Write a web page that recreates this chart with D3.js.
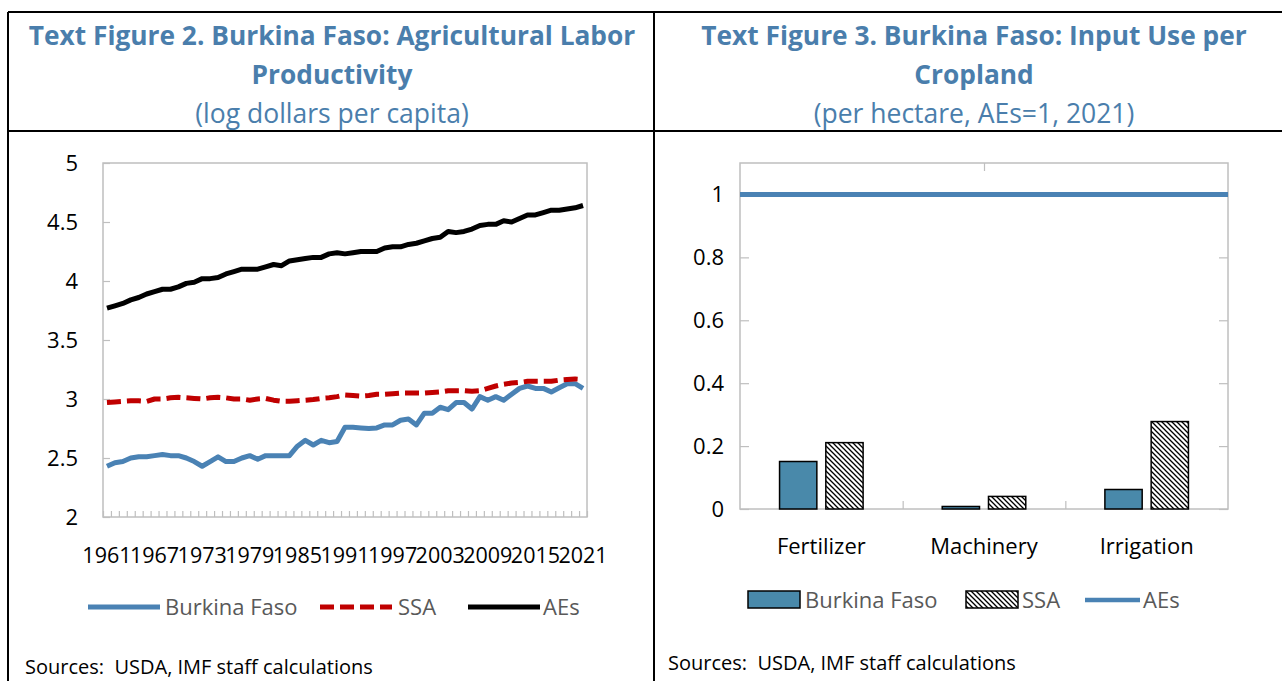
<!DOCTYPE html>
<html>
<head>
<meta charset="utf-8">
<script src="https://cdn.jsdelivr.net/npm/d3@7/dist/d3.min.js"></script>
<style>
  body { margin: 0; background: #fff; }
  text { font-family: "Open Sans", "Noto Sans", sans-serif; }
</style>
</head>
<body>
<svg id="fig" width="1282" height="681"></svg>
<script>
// ---- data: agricultural labor productivity (log dollars per capita)
var years = d3.range(1961, 2022);
var yearLabels = [1961, 1967, 1973, 1979, 1985, 1991, 1997, 2003, 2009, 2015, 2021];
var burkina = [2.43, 2.46, 2.47, 2.50, 2.51, 2.51, 2.52, 2.53, 2.52, 2.52,
               2.50, 2.47, 2.43, 2.47, 2.51, 2.47, 2.47, 2.50, 2.52, 2.49,
               2.52, 2.52, 2.52, 2.52, 2.60, 2.65, 2.61, 2.65, 2.63, 2.64,
               2.76, 2.76, 2.755, 2.75, 2.755, 2.78, 2.78, 2.82, 2.83, 2.78,
               2.88, 2.88, 2.93, 2.91, 2.97, 2.97, 2.915, 3.02, 2.99, 3.02,
               2.99, 3.04, 3.09, 3.11, 3.09, 3.09, 3.06, 3.095, 3.13, 3.13, 3.09];
var ssa = [2.97, 2.975, 2.98, 2.985, 2.985, 2.98, 3.00, 3.00, 3.01, 3.015,
           3.01, 3.005, 3.00, 3.01, 3.015, 3.01, 3.00, 3.00, 2.99, 3.00,
           3.005, 2.99, 2.98, 2.98, 2.985, 2.99, 2.995, 3.005, 3.01, 3.02,
           3.035, 3.03, 3.025, 3.03, 3.04, 3.04, 3.045, 3.05, 3.05, 3.05,
           3.05, 3.055, 3.06, 3.07, 3.07, 3.07, 3.065, 3.07, 3.09, 3.11,
           3.125, 3.135, 3.14, 3.15, 3.15, 3.15, 3.15, 3.16, 3.165, 3.17, 3.165];
var aes = [3.77, 3.79, 3.81, 3.84, 3.86, 3.89, 3.91, 3.93, 3.93, 3.95,
           3.98, 3.99, 4.02, 4.02, 4.03, 4.06, 4.08, 4.10, 4.10, 4.10,
           4.12, 4.14, 4.13, 4.17, 4.18, 4.19, 4.20, 4.20, 4.23, 4.24,
           4.23, 4.24, 4.25, 4.25, 4.25, 4.28, 4.29, 4.29, 4.31, 4.32,
           4.34, 4.36, 4.37, 4.42, 4.41, 4.42, 4.44, 4.47, 4.48, 4.48,
           4.51, 4.50, 4.53, 4.56, 4.56, 4.58, 4.60, 4.60, 4.61, 4.62, 4.64];
var prodTicks = [2, 2.5, 3, 3.5, 4, 4.5, 5];

// ---- data: input use per cropland (AEs = 1, 2021)
var inputCats = ["Fertilizer", "Machinery", "Irrigation"];
var inputBurkina = [0.151, 0.008, 0.062];
var inputSSA = [0.211, 0.040, 0.278];
var inputAEs = [1, 1];
var inputTicks = [0, 0.2, 0.4, 0.6, 0.8, 1];

var TITLE = "#4a7eac", BLUE = "#4a82b4", RED = "#c00000", BAR = "#4989aa",
    GRID = "#bfbfbf", LEG = "#595959";

var svg = d3.select("#fig");

// pattern for SSA bars
var defs = svg.append("defs");
var pat = defs.append("pattern").attr("id", "hatch")
  .attr("patternUnits", "userSpaceOnUse").attr("width", 5).attr("height", 5);
pat.append("rect").attr("width", 5).attr("height", 5).attr("fill", "#fff");
pat.append("path").attr("d", "M0,0L5,5M-1,4L1,6M4,-1L6,1")
  .attr("stroke", "#000").attr("stroke-width", 1.3);

// ---- table frame
var frame = svg.append("g").attr("stroke", "#000").attr("stroke-width", 2);
frame.append("line").attr("x1", 8).attr("x2", 1282).attr("y1", 12).attr("y2", 12);
frame.append("line").attr("x1", 8).attr("x2", 1282).attr("y1", 131).attr("y2", 131);
frame.append("line").attr("x1", 8).attr("x2", 8).attr("y1", 12).attr("y2", 681);
frame.append("line").attr("x1", 654).attr("x2", 654).attr("y1", 12).attr("y2", 681);

// ---- titles
function title(cx, l1, l2, l3) {
  var g = svg.append("g").attr("text-anchor", "middle").attr("fill", TITLE);
  g.append("text").attr("x", cx).attr("y", 45).attr("font-size", 26.3).attr("font-weight", 700).text(l1);
  g.append("text").attr("x", cx).attr("y", 84).attr("font-size", 26.3).attr("font-weight", 700).text(l2);
  g.append("text").attr("x", cx).attr("y", 123).attr("font-size", 26.5).text(l3);
}
title(332, "Text Figure 2. Burkina Faso: Agricultural Labor", "Productivity", "(log dollars per capita)");
title(974, "Text Figure 3. Burkina Faso: Input Use per", "Cropland", "(per hectare, AEs=1, 2021)");

// ---- left chart: lines
var L = {left: 103, right: 587, top: 163, bottom: 517};
var x = d3.scaleBand().domain(years).range([L.left, L.right]);
var xEdge = d3.scaleLinear().domain([0, years.length]).range([L.left, L.right]);
var y = d3.scaleLinear().domain([2, 5]).range([L.bottom, L.top]);

svg.append("rect").attr("x", L.left).attr("y", L.top)
  .attr("width", L.right - L.left).attr("height", L.bottom - L.top)
  .attr("fill", "none").attr("stroke", GRID).attr("stroke-width", 1.5);

var yAx = svg.append("g").attr("transform", "translate(" + L.left + ",0)")
  .call(d3.axisLeft(y).tickValues(prodTicks).tickSize(-7).tickPadding(25).tickFormat(function(d) { return d; }));
var xTk = svg.append("g").attr("transform", "translate(0," + L.bottom + ")")
  .call(d3.axisBottom(xEdge).tickValues(d3.range(0, years.length + 1)).tickSize(-6).tickFormat(""));
var xAx = svg.append("g").attr("transform", "translate(0," + L.bottom + ")")
  .call(d3.axisBottom(x).tickValues(yearLabels).tickSize(0).tickPadding(31));
[yAx, xTk, xAx].forEach(function(a) {
  a.select(".domain").remove();
  a.selectAll("line").attr("stroke", GRID).attr("stroke-width", 1.2);
  a.selectAll("text").attr("font-size", 22).attr("fill", "#000").attr("font-family", null);
});
xAx.selectAll("text").attr("font-size", 21.5);

var line = d3.line()
  .x(function(d, i) { return x(years[i]) + x.bandwidth() / 2; })
  .y(function(d) { return y(d); });

var series = [
  {name: "Burkina Faso", values: burkina, color: BLUE, dash: null},
  {name: "SSA", values: ssa, color: RED, dash: "14,6"},
  {name: "AEs", values: aes, color: "#000", dash: null}
];
svg.append("g").selectAll("path").data(series).enter().append("path")
  .attr("d", function(s) { return line(s.values); })
  .attr("fill", "none")
  .attr("stroke", function(s) { return s.color; })
  .attr("stroke-width", 5)
  .attr("stroke-linejoin", "round")
  .attr("stroke-dasharray", function(s) { return s.dash; });

// left legend
var legL = [{x: 88, tx: 165}, {x: 320, tx: 398}, {x: 468, tx: 543}];
var lg = svg.append("g");
series.forEach(function(s, i) {
  lg.append("line").attr("x1", legL[i].x).attr("x2", legL[i].x + 72)
    .attr("y1", 607).attr("y2", 607)
    .attr("stroke", s.color).attr("stroke-width", 5)
    .attr("stroke-dasharray", s.dash);
  lg.append("text").attr("x", legL[i].tx).attr("y", 615)
    .attr("font-size", 22).attr("fill", LEG).text(s.name);
});

// ---- right chart: bars
var R = {left: 740, right: 1228, top: 163, bottom: 509};
var xR = d3.scaleBand().domain(inputCats).range([R.left, R.right]);
var xIn = d3.scaleBand().domain(["bf", "ssa"]).range([0, xR.bandwidth()])
  .paddingInner(0.194).paddingOuter(0.855);
var xSec = d3.scaleLinear().domain([0, inputAEs.length]).range([R.left, R.right]);
var yR = d3.scaleLinear().domain([0, 1.1]).range([R.bottom, R.top]);

svg.append("rect").attr("x", R.left).attr("y", R.top)
  .attr("width", R.right - R.left).attr("height", R.bottom - R.top)
  .attr("fill", "none").attr("stroke", GRID).attr("stroke-width", 1.5);

var yRAx = svg.append("g").attr("transform", "translate(" + R.left + ",0)")
  .call(d3.axisLeft(yR).tickValues(inputTicks).tickSize(-9).tickPadding(16).tickFormat(function(d) { return d; }));
var yRAx2 = svg.append("g").attr("transform", "translate(" + R.right + ",0)")
  .call(d3.axisRight(yR).tickValues(inputTicks).tickSize(-9).tickFormat(""));
var xREdge = d3.scaleLinear().domain([0, inputCats.length]).range([R.left, R.right]);
var xRTk = svg.append("g").attr("transform", "translate(0," + R.bottom + ")")
  .call(d3.axisBottom(xREdge).tickValues([1, 2]).tickSize(-8).tickFormat(""));
var xRTop = svg.append("g").attr("transform", "translate(0," + R.top + ")")
  .call(d3.axisTop(xSec).tickValues([1]).tickSize(-8).tickFormat(""));
var xRAx = svg.append("g").attr("transform", "translate(0," + R.bottom + ")")
  .call(d3.axisBottom(xR).tickSize(0).tickPadding(29));
[yRAx, yRAx2, xRTk, xRTop, xRAx].forEach(function(a) {
  a.select(".domain").remove();
  a.selectAll("line").attr("stroke", GRID).attr("stroke-width", 1.2);
  a.selectAll("text").attr("font-size", 22).attr("fill", "#000").attr("font-family", null);
});

var bars = svg.append("g").attr("stroke", "#000").attr("stroke-width", 1.5);
inputCats.forEach(function(c, i) {
  bars.append("rect").attr("x", xR(c) + xIn("bf")).attr("width", xIn.bandwidth())
    .attr("y", yR(inputBurkina[i])).attr("height", yR(0) - yR(inputBurkina[i]))
    .attr("fill", BAR);
  bars.append("rect").attr("x", xR(c) + xIn("ssa")).attr("width", xIn.bandwidth())
    .attr("y", yR(inputSSA[i])).attr("height", yR(0) - yR(inputSSA[i]))
    .attr("fill", "url(#hatch)");
});

var aeLine = d3.line()
  .x(function(d, i) { return xSec(i * inputAEs.length); })
  .y(function(d) { return yR(d); });
svg.append("path").attr("d", aeLine(inputAEs))
  .attr("fill", "none").attr("stroke", BLUE).attr("stroke-width", 5);

// right legend
var rg = svg.append("g");
rg.append("rect").attr("x", 748).attr("y", 591).attr("width", 52).attr("height", 17)
  .attr("fill", BAR).attr("stroke", "#000").attr("stroke-width", 1.5);
rg.append("text").attr("x", 805).attr("y", 608).attr("font-size", 22).attr("fill", LEG).text("Burkina Faso");
rg.append("rect").attr("x", 966).attr("y", 591).attr("width", 52).attr("height", 17)
  .attr("fill", "url(#hatch)").attr("stroke", "#000").attr("stroke-width", 1.5);
rg.append("text").attr("x", 1022).attr("y", 608).attr("font-size", 22).attr("fill", LEG).text("SSA");
rg.append("line").attr("x1", 1085).attr("x2", 1140).attr("y1", 600).attr("y2", 600)
  .attr("stroke", BLUE).attr("stroke-width", 4.5);
rg.append("text").attr("x", 1143).attr("y", 608).attr("font-size", 22).attr("fill", LEG).text("AEs");

// ---- sources
svg.append("text").attr("x", 25).attr("y", 674).attr("font-size", 20)
  .style("white-space", "pre").text("Sources:  USDA, IMF staff calculations");
svg.append("text").attr("x", 668).attr("y", 670).attr("font-size", 20)
  .style("white-space", "pre").text("Sources:  USDA, IMF staff calculations");
</script>
</body>
</html>
